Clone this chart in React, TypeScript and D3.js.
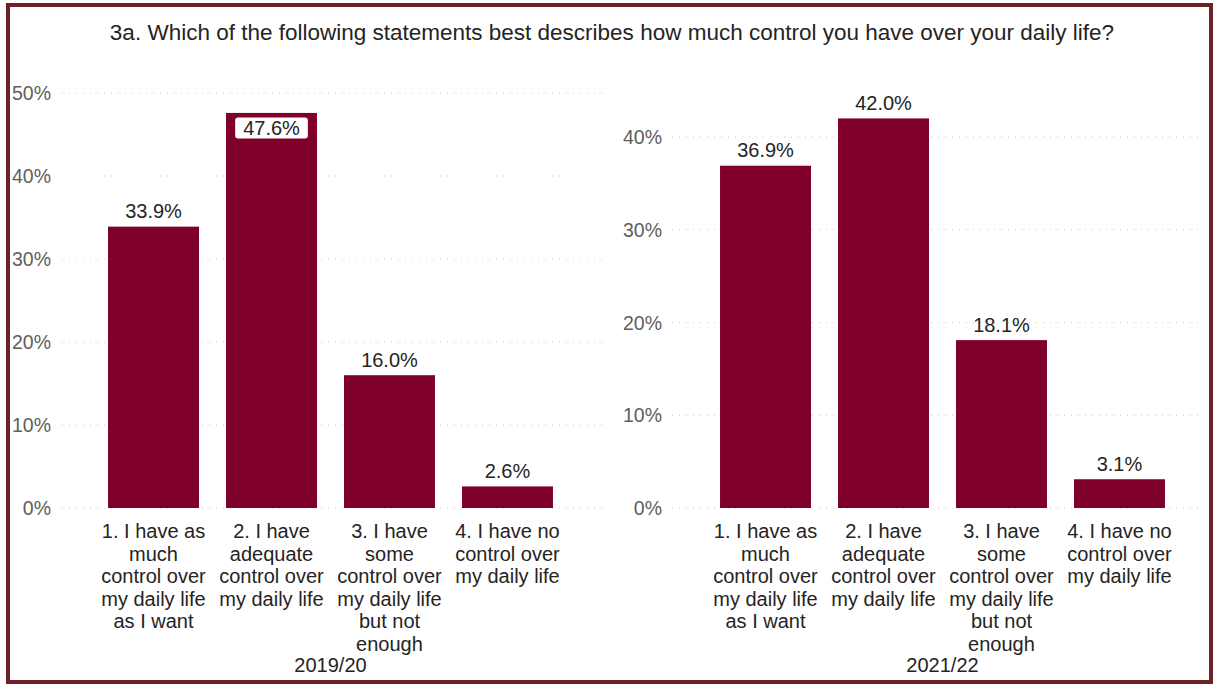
import React from "react";
import * as d3 from "d3";

const title =
  "3a. Which of the following statements best describes how much control you have over your daily life?";
const categories = [
  "1. I have as much control over my daily life as I want",
  "2. I have adequate control over my daily life",
  "3. I have some control over my daily life but not enough",
  "4. I have no control over my daily life",
];
const periods = ["2019/20", "2021/22"];
const values2019 = [33.9, 47.6, 16.0, 2.6];
const values2021 = [36.9, 42.0, 18.1, 3.1];
const ticks2019 = [0, 10, 20, 30, 40, 50];
const ticks2021 = [0, 10, 20, 30, 40];

const FONT = "'Liberation Sans', Arial, sans-serif";
const BAR = "#7f0029";
const TEXT = "#252423";
const AXIS = "#605E5C";

let canvasCtx: CanvasRenderingContext2D | null = null;
function measure(t: string, size: number) {
  if (!canvasCtx) {
    const c = document.createElement("canvas");
    canvasCtx = c.getContext("2d");
  }
  if (!canvasCtx) return t.length * size * 0.5;
  canvasCtx.font = `${size}px 'Liberation Sans', Arial, sans-serif`;
  return canvasCtx.measureText(t).width;
}

function wrap(text: string, maxW: number, size: number) {
  const words = text.split(" ");
  const lines: string[] = [];
  let cur = "";
  for (const w of words) {
    const test = cur ? cur + " " + w : w;
    if (cur && measure(test, size) > maxW) {
      lines.push(cur);
      cur = w;
    } else cur = test;
  }
  if (cur) lines.push(cur);
  return lines;
}

type PanelProps = {
  values: number[];
  ticks: number[];
  yMax: number;
  barRange: [number, number];
  gridRange: [number, number];
  tickX: number;
  period: string;
};

function Panel({ values, ticks, yMax, barRange, gridRange, tickX, period }: PanelProps) {
  const y = d3.scaleLinear().domain([0, yMax]).range([508, 93]);
  const x = d3
    .scaleBand<string>()
    .domain(categories)
    .range(barRange)
    .paddingInner(0.229)
    .paddingOuter(0.4155);
  const bw = x.bandwidth();
  const fmt = (v: number) => v.toFixed(1) + "%";
  const cx = (barRange[0] + barRange[1]) / 2;
  return (
    <g>
      {ticks.map((t) => (
        <g key={t}>
          <line
            x1={gridRange[0]}
            x2={gridRange[1]}
            y1={y(t)}
            y2={y(t)}
            stroke="#c8c8c8"
            strokeWidth={1}
            strokeDasharray="1,6"
          />
          <text
            x={tickX}
            y={y(t)}
            dy="0.36em"
            textAnchor="end"
            fontSize={19.5}
            fill={AXIS}
            fontFamily={FONT}
          >
            {t}%
          </text>
        </g>
      ))}
      {categories.map((c, i) => {
        const v = values[i];
        const bx = x(c) as number;
        const top = y(v);
        const inside = top < 118;
        const label = fmt(v);
        const tw = measure(label, 20);
        return (
          <g key={c}>
            <rect x={bx} y={top} width={bw} height={508 - top} fill={BAR} />
            {inside ? (
              <g>
                <rect
                  x={bx + bw / 2 - tw / 2 - 8}
                  y={top + 4.5}
                  width={tw + 16}
                  height={21}
                  rx={3}
                  fill="#ffffff"
                />
                <text
                  x={bx + bw / 2}
                  y={top + 22}
                  textAnchor="middle"
                  fontSize={20}
                  fill={TEXT}
                  fontFamily={FONT}
                >
                  {label}
                </text>
              </g>
            ) : (
              <text
                x={bx + bw / 2}
                y={top - 8.5}
                textAnchor="middle"
                fontSize={20}
                fill={TEXT}
                fontFamily={FONT}
              >
                {label}
              </text>
            )}
            {wrap(c, 112, 20).map((ln, k) => (
              <text
                key={k}
                x={bx + bw / 2}
                y={538 + k * 22.5}
                textAnchor="middle"
                fontSize={20}
                fill={TEXT}
                fontFamily={FONT}
              >
                {ln}
              </text>
            ))}
          </g>
        );
      })}
      <text x={cx} y={672} textAnchor="middle" fontSize={20} fill={TEXT} fontFamily={FONT}>
        {period}
      </text>
    </g>
  );
}

export default function App() {
  return (
    <svg
      width={1215}
      height={684}
      style={{ position: "absolute", left: 0, top: 0, background: "#ffffff" }}
    >
      <rect x={0} y={0} width={1215} height={684} fill="#ffffff" />
      <text
        x={612}
        y={39.5}
        textAnchor="middle"
        fontSize={22.5}
        fill={TEXT}
        fontFamily={FONT}
      >
        {title}
      </text>
      <Panel
        values={values2019}
        ticks={ticks2019}
        yMax={50}
        barRange={[59, 602]}
        gridRange={[62, 605]}
        tickX={51}
        period={periods[0]}
      />
      <Panel
        values={values2021}
        ticks={ticks2021}
        yMax={44.74}
        barRange={[671, 1214]}
        gridRange={[672, 1200]}
        tickX={662}
        period={periods[1]}
      />
      <rect
        x={8}
        y={5}
        width={1203}
        height={677}
        fill="none"
        stroke="#6b2226"
        strokeWidth={4}
      />
    </svg>
  );
}
